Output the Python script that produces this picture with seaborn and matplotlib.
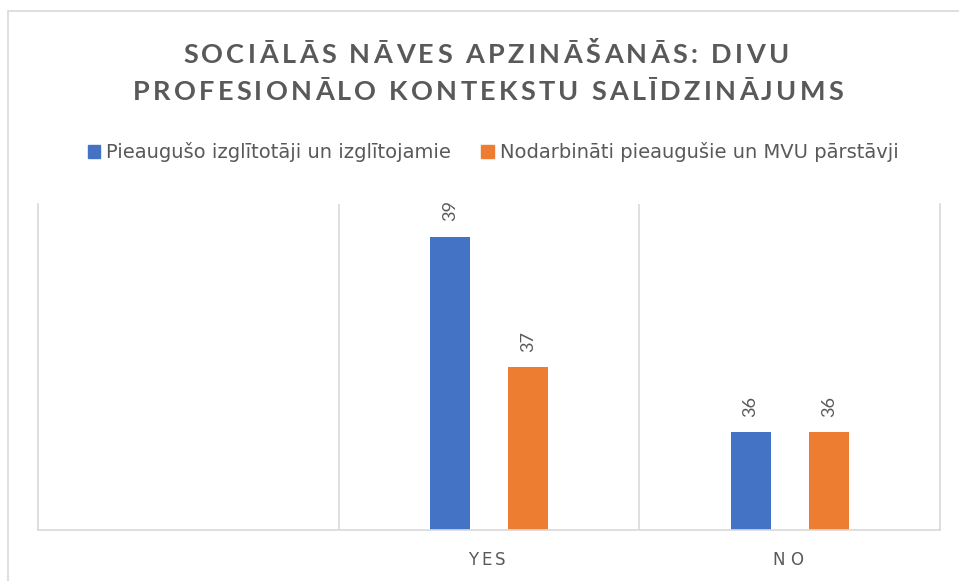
import matplotlib
matplotlib.use('Agg')
import matplotlib.pyplot as plt
from matplotlib.patches import Rectangle
from matplotlib.font_manager import FontProperties
import seaborn as sns
import pandas as pd

# ─── Data ────────────────────────────────────────────────────────────────────
categories = ['', 'YES', 'NO']
series = ['Pieaugušo izglītotāji un izglītojamie',
          'Nodarbināti pieaugušie un MVU pārstāvji']
educators = [None, 39, 36]
workers = [None, 37, 36]
title_lines = ['SOCIĀLĀS NĀVES APZINĀŠANĀS: DIVU',
               'PROFESIONĀLO KONTEKSTU SALĪDZINĀJUMS']

COLORS = ['#4472C4', '#ED7D31']
GREY = '#595959'
LINE = '#D9D9D9'
W, H = 959, 581

rows = []
for cat, a, b in zip(categories, educators, workers):
    if a is not None:
        rows.append({'cat': cat, 'serie': series[0], 'val': a})
    if b is not None:
        rows.append({'cat': cat, 'serie': series[1], 'val': b})
df = pd.DataFrame(rows)

sns.set_theme(style='white')
plt.rcParams['font.family'] = ['DejaVu Sans']

fig = plt.figure(figsize=(W / 100, H / 100), dpi=100)
ax = fig.add_axes([38 / W, 1 - 530 / H, 902 / W, 326 / H])

sns.barplot(data=df, x='cat', y='val', hue='serie', order=categories,
            hue_order=series, palette=COLORS, saturation=1, width=0.52, gap=0.49,
            linewidth=0, ax=ax, legend=False)

ax.set_xlim(-0.5, 2.5)
ax.set_ylim(34.5, 39.5)
ax.set_yticks([])
ax.set_xlabel('')
ax.set_ylabel('')
ax.set_xticklabels([])
ax.tick_params(axis='x', length=0)

# lignes verticales entre catégories
for xv in [0.5, 1.5]:
    ax.axvline(xv, color=LINE, lw=1.2, zorder=0)
for side in ['left', 'right', 'bottom']:
    ax.spines[side].set_color(LINE)
    ax.spines[side].set_linewidth(1.2)
ax.spines['top'].set_visible(False)

for cont in ax.containers:
    ax.bar_label(cont, rotation=90, padding=11, fontsize=13, color=GREY,
                 family='Lato')

renderer = fig.canvas.get_renderer()


def tracked_text(xc, y_base, s, width, size, weight='normal', family='DejaVu Sans'):
    """texte centré en xc (px) avec espacement des lettres pour occuper width px"""
    fp = FontProperties(family=family, size=size, weight=weight)
    widths = [renderer.get_text_width_height_descent(ch, fp, ismath=False)[0] for ch in s]
    track = (width - sum(widths)) / max(len(s) - 1, 1)
    x = xc - width / 2
    for ch, w in zip(s, widths):
        fig.text(x / W, 1 - y_base / H, ch, fontproperties=fp, ha='left',
                 va='baseline', color=GREY)
        x += w + track


# Titre
tracked_text(486, 63, title_lines[0], 606, 19.5, weight='bold', family='Lato')
tracked_text(488, 100, title_lines[1], 710, 19.5, weight='bold', family='Lato')

# étiquettes de l'axe X (espacées comme dans Excel)
tick_w = {'YES': 37, 'NO': 30}
for i, cat in enumerate(categories):
    if cat:
        xc = ax.transData.transform((i, 0))[0]
        tracked_text(xc - 2, 565, cat, tick_w[cat], 12)

# Légende
handles = [Rectangle((0, 0), 1, 1, color=c) for c in COLORS]
fig.legend(handles, series, loc='center', bbox_to_anchor=(493 / W, 1 - 152 / H),
           ncol=2, frameon=False, fontsize=14, handlelength=0.65, handleheight=0.65,
           handletextpad=0.3, columnspacing=1.55, labelcolor=GREY)

# cadre du graphique
fig.patches.append(Rectangle((8 / W, -0.1), 1.2, 1 - 11 / H + 0.1,
                             transform=fig.transFigure, fill=False,
                             edgecolor=LINE, lw=1.2))

fig.savefig('out.png', dpi=100)
